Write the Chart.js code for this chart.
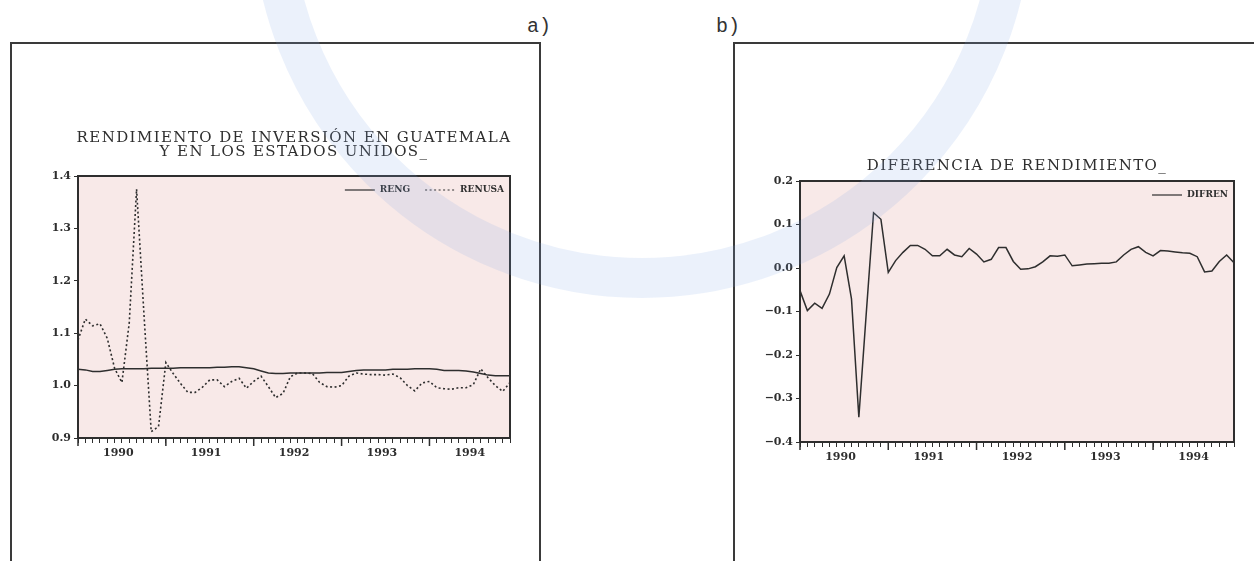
<!DOCTYPE html>
<html>
<head>
<meta charset="utf-8">
<script src="https://cdn.jsdelivr.net/npm/chart.js@4.4.1/dist/chart.umd.min.js"></script>
<style>
  body { margin: 0; width: 1254px; height: 561px; background: #fff; position: relative; overflow: hidden; }
  canvas { position: absolute; top: 0; }
  #chartA { left: 0; }
  #chartB { left: 700px; }
  .frame { position: absolute; border: 2px solid #3a3a3a; }
  #frameA { left: 10px; top: 42px; width: 527px; height: 540px; }
  #frameB { left: 733px; top: 42px; width: 560px; height: 540px; }
  .tag { position: absolute; top: 15px; font: 20px "Liberation Mono", monospace; color: #333; }
  #ring { position: absolute; left: 252px; top: -482px; width: 700px; height: 700px; border-radius: 50%;
          border: 40px solid rgba(130, 170, 230, 0.16); pointer-events: none; }
</style>
</head>
<body>
<div class="frame" id="frameA"></div>
<div class="frame" id="frameB"></div>
<div class="tag" style="left:527px">a)</div>
<div class="tag" style="left:716px">b)</div>
<canvas id="chartA" width="560" height="561"></canvas>
<canvas id="chartB" width="554" height="561"></canvas>
<div id="ring"></div>
<script>
// monthly observations, 1990:01 - 1994:12
const years = ["1990", "1991", "1992", "1993", "1994"];
const months = ["01", "02", "03", "04", "05", "06", "07", "08", "09", "10", "11", "12"];
const categories = years.flatMap(y => months.map(m => y + ":" + m));

const reng = [
  1.031, 1.030, 1.027, 1.027, 1.029, 1.031, 1.032, 1.032, 1.032, 1.032,
  1.033, 1.033, 1.033, 1.033, 1.034, 1.034, 1.034, 1.034, 1.034, 1.035,
  1.035, 1.036, 1.036, 1.034, 1.032, 1.028, 1.024, 1.023, 1.023, 1.024,
  1.024, 1.024, 1.024, 1.024, 1.025, 1.025, 1.025, 1.027, 1.029, 1.030,
  1.030, 1.030, 1.030, 1.031, 1.031, 1.031, 1.032, 1.032, 1.032, 1.031,
  1.029, 1.029, 1.029, 1.028, 1.026, 1.023, 1.020, 1.019, 1.019, 1.019
];
const renusa = [
  1.087, 1.127, 1.114, 1.118, 1.090, 1.033, 1.006, 1.120, 1.375, 1.138,
  0.912, 0.922, 1.044, 1.023, 1.004, 0.987, 0.987, 0.997, 1.011, 1.011,
  0.998, 1.008, 1.014, 0.995, 1.008, 1.018, 0.998, 0.977, 0.985, 1.017,
  1.024, 1.024, 1.023, 1.006, 0.998, 0.997, 1.000, 1.018, 1.024, 1.022,
  1.021, 1.021, 1.020, 1.022, 1.015, 1.000, 0.990, 1.005, 1.008, 0.996,
  0.994, 0.993, 0.996, 0.996, 1.002, 1.032, 1.015, 1.000, 0.989, 1.006
];
const difren = [
  -0.052, -0.098, -0.081, -0.093, -0.060, 0.001, 0.028, -0.071, -0.343, -0.106,
  0.127, 0.112, -0.010, 0.017, 0.036, 0.052, 0.052, 0.043, 0.028, 0.028,
  0.043, 0.030, 0.026, 0.045, 0.032, 0.014, 0.020, 0.047, 0.047, 0.015,
  -0.003, -0.002, 0.003, 0.014, 0.028, 0.027, 0.030, 0.005, 0.007, 0.009,
  0.010, 0.011, 0.011, 0.014, 0.030, 0.043, 0.049, 0.036, 0.028, 0.040,
  0.039, 0.037, 0.035, 0.034, 0.026, -0.009, -0.007, 0.015, 0.030, 0.012
];

const titleA = ["RENDIMIENTO DE INVERSIÓN EN GUATEMALA", "Y EN LOS ESTADOS UNIDOS_"];
const titleB = ["DIFERENCIA DE RENDIMIENTO_"];

const ink = "#2e2e2e";
const tickFont = { family: "DejaVu Serif", size: 11, weight: "bold" };

// pink plot box with a frame, like the old EViews print
const plotBox = {
  id: "plotBox",
  beforeDraw(chart) {
    const a = chart.chartArea;
    const ctx = chart.ctx;
    ctx.save();
    ctx.fillStyle = "#f8e9e8";
    ctx.fillRect(a.left, a.top, a.right - a.left, a.bottom - a.top);
    ctx.restore();
  },
  afterDatasetsDraw(chart) {
    const a = chart.chartArea;
    const ctx = chart.ctx;
    ctx.save();
    ctx.strokeStyle = ink;
    ctx.lineWidth = 2;
    ctx.strokeRect(a.left, a.top, a.right - a.left, a.bottom - a.top);
    // longer ticks where each year starts
    const xs = chart.scales.x;
    ctx.lineWidth = 1.5;
    ctx.beginPath();
    for (let i = 0; i < categories.length; i += 12) {
      const px = xs.getPixelForValue(i);
      ctx.moveTo(px, a.bottom);
      ctx.lineTo(px, a.bottom + 8);
    }
    ctx.stroke();
    ctx.restore();
  }
};

// title centred over the plot area
const areaTitle = {
  id: "areaTitle",
  afterDraw(chart, args, opts) {
    const a = chart.chartArea;
    const ctx = chart.ctx;
    ctx.save();
    ctx.font = "15px 'DejaVu Serif'";
    if ("letterSpacing" in ctx) ctx.letterSpacing = "1.4px";
    ctx.fillStyle = ink;
    ctx.textAlign = "center";
    ctx.textBaseline = "middle";
    const cx = (a.left + a.right) / 2;
    opts.lines.forEach((t, i) => {
      ctx.fillText(t, cx, a.top - opts.offset + i * 14);
    });
    ctx.restore();
  }
};

// one-row key in the top right corner of the plot
const cornerKey = {
  id: "cornerKey",
  afterDatasetsDraw(chart) {
    const a = chart.chartArea;
    const ctx = chart.ctx;
    ctx.save();
    ctx.font = "bold 9px 'DejaVu Serif'";
    ctx.fillStyle = ink;
    ctx.strokeStyle = ink;
    ctx.textBaseline = "middle";
    const y = a.top + 14;
    let x = a.right - 6;
    const sets = chart.data.datasets.slice().reverse();
    sets.forEach(ds => {
      const w = ctx.measureText(ds.label).width;
      ctx.fillText(ds.label, x - w, y);
      x -= w + 5;
      ctx.lineWidth = 1.2;
      ctx.setLineDash(ds.borderDash || []);
      ctx.beginPath();
      ctx.moveTo(x - 30, y);
      ctx.lineTo(x, y);
      ctx.stroke();
      x -= 30 + 15;
    });
    ctx.restore();
  }
};

function xScale() {
  return {
    type: "category",
    offset: false,
    grid: {
      drawOnChartArea: false,
      drawTicks: true,
      tickLength: 5,
      tickColor: ink,
      tickWidth: 1
    },
    border: { display: true, color: ink, width: 2 },
    ticks: {
      autoSkip: false,
      maxRotation: 0,
      minRotation: 0,
      labelOffset: 3.7,
      padding: 4,
      color: ink,
      font: tickFont,
      callback: (v, i) => (i % 12 === 5 ? years[Math.floor(i / 12)] : "")
    },
    afterFit: s => { s.height = 40; }
  };
}

function yScale(min, max, width) {
  return {
    min: min,
    max: max,
    grid: { drawOnChartArea: false, drawTicks: true, tickLength: 4, tickColor: ink },
    border: { display: true, color: ink, width: 2 },
    ticks: {
      stepSize: 0.1,
      padding: 3,
      color: ink,
      font: tickFont,
      callback: v => (v < -1e-9 ? "\u2212" : "") + Math.abs(v).toFixed(1)
    },
    afterFit: s => { s.width = width; }
  };
}

new Chart(document.getElementById("chartA"), {
  type: "line",
  data: {
    labels: categories,
    datasets: [
      { label: "RENG", data: reng, borderColor: ink, borderWidth: 1.5, pointRadius: 0, tension: 0 },
      { label: "RENUSA", data: renusa, borderColor: ink, borderWidth: 1.6, borderDash: [2, 2.5], pointRadius: 0, tension: 0 }
    ]
  },
  options: {
    responsive: false,
    animation: false,
    layout: { padding: { left: 20, right: 50, top: 176, bottom: 83 } },
    scales: { x: xScale(), y: yScale(0.9, 1.4, 58) },
    plugins: {
      legend: { display: false },
      tooltip: { enabled: false },
      areaTitle: { lines: titleA, offset: 38 }
    }
  },
  plugins: [plotBox, areaTitle, cornerKey]
});

new Chart(document.getElementById("chartB"), {
  type: "line",
  data: {
    labels: categories,
    datasets: [
      { label: "DIFREN", data: difren, borderColor: ink, borderWidth: 1.5, pointRadius: 0, tension: 0 }
    ]
  },
  options: {
    responsive: false,
    animation: false,
    layout: { padding: { left: 20, right: 20, top: 181, bottom: 79 } },
    scales: { x: xScale(), y: yScale(-0.4, 0.2, 80) },
    plugins: {
      legend: { display: false },
      tooltip: { enabled: false },
      areaTitle: { lines: titleB, offset: 15 }
    }
  },
  plugins: [plotBox, areaTitle, cornerKey]
});
</script>
</body>
</html>
